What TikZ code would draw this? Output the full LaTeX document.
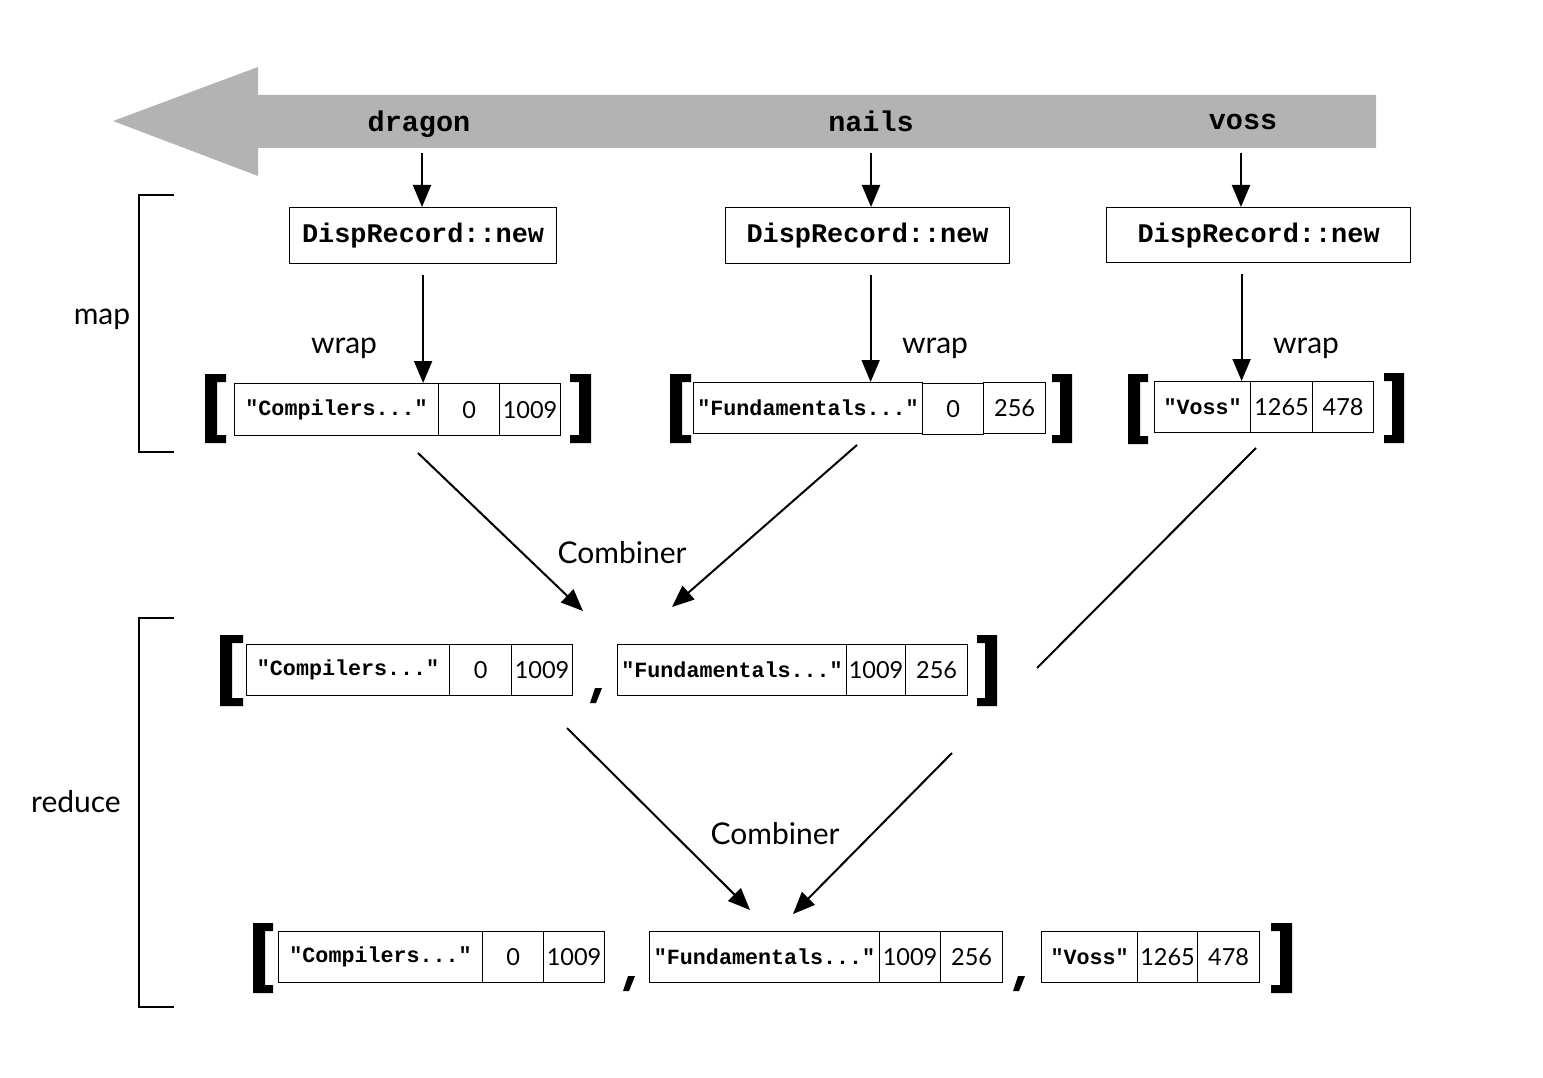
\documentclass[tikz,border=0pt]{standalone}
\usepackage{fontspec}
\setmainfont{Lato}
\newfontfamily\recmono{Liberation Mono}
\usetikzlibrary{arrows.meta}
\definecolor{arrowgray}{HTML}{B3B3B3}
\newcommand\recfont{\recmono\bfseries\fontsize{21.7pt}{24pt}\selectfont}
\newcommand\numfont{\fontsize{23.5pt}{26pt}\selectfont}
\newcommand\lblfont{\fontsize{30pt}{34pt}\selectfont}
\newcommand\dispfont{\recmono\bfseries\fontsize{26.9pt}{30pt}\selectfont}
\newcommand\topfont{\recmono\bfseries\fontsize{28.5pt}{32pt}\selectfont}
\newcommand\brkL[4]{\fill (#1,#2) -- (#3,#2) -- (#3,#2+8) -- (#1+12,#2+8) -- (#1+12,#4-8) -- (#3,#4-8) -- (#3,#4) -- (#1,#4) -- cycle;}
\newcommand\brkR[4]{\fill (#1,#2) -- (#3,#2) -- (#3,#4) -- (#1,#4) -- (#1,#4-8) -- (#3-12,#4-8) -- (#3-12,#2+8) -- (#1,#2+8) -- cycle;}
\newcommand\cmma[2]{\fill (#1+5,#2) -- (#1+12,#2) -- (#1+6,#2+15) -- (#1,#2+15) -- cycle;}
\begin{document}
\begin{tikzpicture}[x=1pt,y=-1pt,
  cellbox/.style={draw, line width=1.2pt, inner sep=0pt, anchor=north west, minimum height=51pt},
  rec/.style={cellbox, font=\recfont},
  num/.style={cellbox, font=\numfont},
  disp/.style={draw, line width=1.2pt, inner sep=0pt, anchor=north west, minimum height=56pt, font=\dispfont},
  arr/.style={line width=2pt, -{Triangle[length=22pt,width=18pt]}},
  plain/.style={line width=2pt},
  lbl/.style={font=\lblfont, inner sep=0pt},
  toplbl/.style={font=\topfont, inner sep=0pt, anchor=base}]
\useasboundingbox (0,0) rectangle (1543,1078);
% big gray arrow
\fill[arrowgray] (113,121) -- (258,67) -- (258,95) -- (1376,95) -- (1376,148) -- (258,148) -- (258,176) -- cycle;
\node[toplbl] (dragon) at (419,132) {dragon};
\node[toplbl] (nails) at (871,132) {nails};
\node[toplbl] (voss) at (1243,130) {voss};
% DispRecord boxes
\node[disp, minimum width=267pt] (d1) at (289,207) {DispRecord::new};
\node[disp, minimum width=284pt] (d2) at (725,207) {DispRecord::new};
\node[disp, minimum width=304pt, minimum height=55pt] (d3) at (1106,207) {DispRecord::new};
% top arrows
\coordinate (t1) at (422,153);
\coordinate (t2) at (871,153);
\coordinate (t3) at (1241,153);
\draw[arr] (t1) -- (t1 |- d1.north);
\draw[arr] (t2) -- (t2 |- d2.north);
\draw[arr] (t3) -- (t3 |- d3.north);
% map bracket and labels
\draw[plain] (174,195) -- (139,195) -- (139,452) -- (174,452);
\node[lbl] (map) at (102,319) {map};
\draw[plain] (174,618) -- (139,618) -- (139,1007) -- (174,1007);
\node[lbl] (reduce) at (76,802) {reduce};
\node[lbl] (w1) at (344,348) {wrap};
\node[lbl] (w2) at (935,348) {wrap};
\node[lbl] (w3) at (1306,348) {wrap};
% row 1 records
\node[rec, minimum width=204pt, minimum height=52pt] (r1la) at (234,383) {"Compilers..."};
\node[num, minimum width=61pt, minimum height=52pt] (r1lb) at (438,383) {0};
\node[num, minimum width=61pt, minimum height=52pt] (r1lc) at (499,383) {1009};
\brkL{205}{374}{226}{443}
\brkR{570}{374}{591}{443}
\node[rec, minimum width=229pt] (r1ma) at (693,382) {"Fundamentals..."};
\node[num, minimum width=61pt] (r1mb) at (922,383) {0};
\node[num, minimum width=62pt] (r1mc) at (983,382) {256};
\brkL{670}{374}{691}{443}
\brkR{1052}{374}{1072}{443}
\node[rec, minimum width=96pt] (r1ra) at (1154,381) {"Voss"};
\node[num, minimum width=62pt] (r1rb) at (1250,381) {1265};
\node[num, minimum width=61pt] (r1rc) at (1312,381) {478};
\brkL{1128}{374}{1148}{444}
\brkR{1384}{373}{1404}{443}
% wrap arrows
\coordinate (s1) at ([yshift=-11pt]d1.south);
\coordinate (s2) at ([xshift=3pt,yshift=-11pt]d2.south);
\coordinate (s3) at ([xshift=-17pt,yshift=-11pt]d3.south);
\draw[arr] (s1) -- (s1 |- r1la.north);
\draw[arr] (s2) -- (s2 |- r1ma.north);
\draw[arr] (s3) -- (s3 |- r1ra.north);
% row 2 records
\node[rec, minimum width=203pt] (r2aa) at (246,644) {"Compilers..."};
\node[num, minimum width=62pt] (r2ab) at (449,644) {0};
\node[num, minimum width=61pt] (r2ac) at (511,644) {1009};
\node[rec, minimum width=229pt] (r2ba) at (617,644) {"Fundamentals..."};
\node[num, minimum width=59pt] (r2bb) at (846,644) {1009};
\node[num, minimum width=62pt] (r2bc) at (905,644) {256};
\brkL{220}{635}{243}{706}
\brkR{977}{635}{997}{706}
\cmma{590}{688}
% row 3 records
\node[rec, minimum width=204pt] (r3aa) at (278,931) {"Compilers..."};
\node[num, minimum width=61pt] (r3ab) at (482,931) {0};
\node[num, minimum width=61pt] (r3ac) at (543,931) {1009};
\node[rec, minimum width=230pt] (r3ba) at (649,931) {"Fundamentals..."};
\node[num, minimum width=61pt] (r3bb) at (879,931) {1009};
\node[num, minimum width=62pt] (r3bc) at (940,931) {256};
\node[rec, minimum width=96pt] (r3ca) at (1041,931) {"Voss"};
\node[num, minimum width=60pt] (r3cb) at (1137,931) {1265};
\node[num, minimum width=62pt] (r3cc) at (1197,931) {478};
\brkL{253}{923}{273}{993}
\brkR{1271}{923}{1292}{993}
\cmma{623}{976}
\cmma{1013}{976}
% combiners
\node[lbl] (comb1) at (622,553) {Combiner};
\node[lbl] (comb2) at (775,834) {Combiner};
\coordinate (c1s) at (418,453);
\coordinate (c1e) at (583,611);
\coordinate (c2s) at (857,445);
\coordinate (c2e) at (672,607);
\coordinate (c3s) at (1256,448);
\coordinate (c3e) at (1037,668);
\coordinate (c4s) at (567,728);
\coordinate (c4e) at (750,910);
\coordinate (c5s) at (952,753);
\coordinate (c5e) at (793,914);
\draw[arr] (c1s) -- (c1e);
\draw[arr] (c2s) -- (c2e);
\draw[plain] (c3s) -- (c3e);
\draw[arr] (c4s) -- (c4e);
\draw[arr] (c5s) -- (c5e);
\end{tikzpicture}
\end{document}
